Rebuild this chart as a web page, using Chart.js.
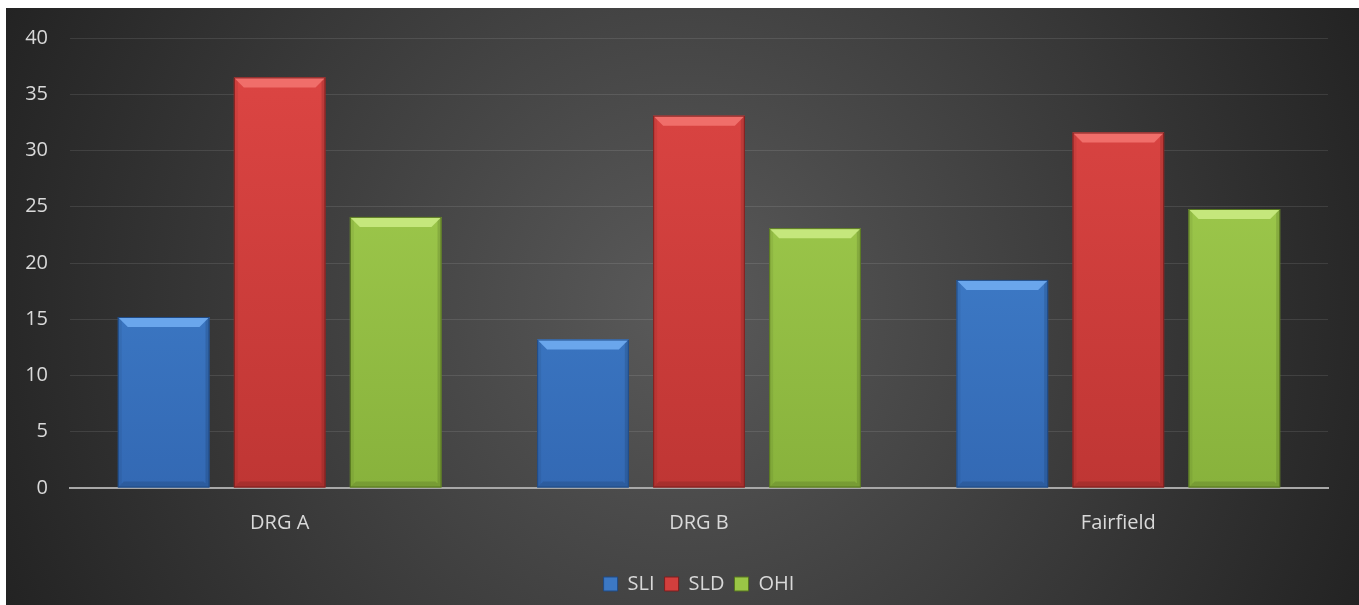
<!DOCTYPE html>
<html>
<head>
<meta charset="utf-8">
<script src="https://cdn.jsdelivr.net/npm/chart.js@4.4.0/dist/chart.umd.min.js"></script>
<style>
    html, body { margin: 0; padding: 0; background: #fff; }
    .chart-wrap { position: absolute; left: 6px; top: 8px; width: 1353px; height: 597px; }
</style>
</head>
<body>
<div class="chart-wrap"><canvas id="scoreChart"></canvas></div>
<script>
// Data
const categories = ['DRG A', 'DRG B', 'Fairfield'];
const seriesNames = ['SLI', 'SLD', 'OHI'];
const sliValues = [15.2, 13.2, 18.5];
const sldValues = [36.5, 33.1, 31.6];
const ohiValues = [24.1, 23.1, 24.8];
const yMin = 0;
const yMax = 40;
const yStep = 5;

// Colours per series: face top, face bottom, bevel highlight, edge
const seriesStyles = [
    { top: '#4689d6', bottom: '#3369b4', light: '#6aa6ec', edge: '#1f4a85', flat: '#3c78c4' },
    { top: '#de4644', bottom: '#bf3634', light: '#f06e6a', edge: '#7d1f1e', flat: '#d23f3d' },
    { top: '#a6d152', bottom: '#88b23c', light: '#c5e77c', edge: '#56751f', flat: '#9ac646' }
];
const textColor = '#d9d9d9';
const fontFamily = "'Open Sans', 'Noto Sans', sans-serif";
const fontSize = 20;

const backgroundPlugin = {
    id: 'radialBackground',
    beforeDraw(chart) {
        const { ctx, width, height } = chart;
        const cx = width * 0.5;
        const cy = height * 0.5;
        const r = Math.sqrt(width * width + height * height) / 2;
        const g = ctx.createRadialGradient(cx, cy, 0, cx, cy, r);
        g.addColorStop(0, '#5a5a5a');
        g.addColorStop(1, '#232323');
        ctx.save();
        ctx.fillStyle = g;
        ctx.fillRect(0, 0, width, height);
        ctx.restore();
    }
};

// Draw a bevel on every bar, using the positions the bar elements got from the scales
const bevelPlugin = {
    id: 'barBevel',
    afterDatasetsDraw(chart) {
        const { ctx } = chart;
        chart.data.datasets.forEach((ds, i) => {
            const meta = chart.getDatasetMeta(i);
            const style = seriesStyles[i];
            meta.data.forEach(bar => {
                const left = bar.x - bar.width / 2;
                const right = bar.x + bar.width / 2;
                const top = bar.y;
                const bottom = bar.base;
                const b = 10;
                ctx.save();
                // top highlight
                ctx.beginPath();
                ctx.moveTo(left, top);
                ctx.lineTo(right, top);
                ctx.lineTo(right - b, top + b);
                ctx.lineTo(left + b, top + b);
                ctx.closePath();
                ctx.fillStyle = style.light;
                ctx.fill();
                // side shading
                ctx.beginPath();
                ctx.moveTo(right, top);
                ctx.lineTo(right, bottom);
                ctx.lineTo(right - 4, bottom - 4);
                ctx.lineTo(right - 4, top + 4);
                ctx.closePath();
                ctx.fillStyle = 'rgba(0,0,0,0.12)';
                ctx.fill();
                ctx.beginPath();
                ctx.moveTo(left, top);
                ctx.lineTo(left + 4, top + 4);
                ctx.lineTo(left + 4, bottom - 4);
                ctx.lineTo(left, bottom);
                ctx.closePath();
                ctx.fillStyle = 'rgba(0,0,0,0.06)';
                ctx.fill();
                // bottom shading
                ctx.beginPath();
                ctx.moveTo(left, bottom);
                ctx.lineTo(right, bottom);
                ctx.lineTo(right - 6, bottom - 6);
                ctx.lineTo(left + 6, bottom - 6);
                ctx.closePath();
                ctx.fillStyle = 'rgba(0,0,0,0.12)';
                ctx.fill();
                // outline
                ctx.strokeStyle = style.edge;
                ctx.lineWidth = 1;
                ctx.strokeRect(left + 0.5, top + 0.5, bar.width - 1, bottom - top - 1);
                ctx.restore();
            });
        });
    }
};

function faceGradient(index) {
    return (context) => {
        const { chart } = context;
        const area = chart.chartArea;
        const style = seriesStyles[index];
        if (!area) return style.flat;
        const g = chart.ctx.createLinearGradient(0, area.top, 0, area.bottom);
        g.addColorStop(0, style.top);
        g.addColorStop(1, style.bottom);
        return g;
    };
}

const seriesValues = [sliValues, sldValues, ohiValues];

new Chart(document.getElementById('scoreChart'), {
    type: 'bar',
    data: {
        labels: categories,
        datasets: seriesNames.map((name, i) => ({
            label: name,
            data: seriesValues[i],
            backgroundColor: faceGradient(i),
            borderWidth: 0,
            categoryPercentage: 0.83,
            barPercentage: 0.79
        }))
    },
    options: {
        responsive: true,
        maintainAspectRatio: false,
        animation: false,
        layout: {
            padding: { top: 30, right: 31, bottom: 1, left: 0 }
        },
        plugins: {
            legend: {
                position: 'bottom',
                fullSize: false,
                labels: {
                    color: textColor,
                    font: { family: fontFamily, size: fontSize },
                    boxWidth: 14,
                    boxHeight: 14,
                    padding: 10,
                    generateLabels(chart) {
                        return chart.data.datasets.map((ds, i) => ({
                            text: ds.label,
                            fillStyle: seriesStyles[i].flat,
                            strokeStyle: seriesStyles[i].edge,
                            lineWidth: 1,
                            fontColor: textColor,
                            hidden: false,
                            datasetIndex: i
                        }));
                    }
                }
            },
            tooltip: { enabled: false }
        },
        scales: {
            x: {
                grid: { display: false, drawTicks: false },
                border: { color: '#a8a8a8', width: 2 },
                ticks: {
                    color: textColor,
                    font: { family: fontFamily, size: fontSize },
                    padding: 23
                },
                afterFit(scale) {
                    scale.height = 76;
                }
            },
            y: {
                min: yMin,
                max: yMax,
                grid: { color: 'rgba(255,255,255,0.1)', lineWidth: 1, drawTicks: false },
                border: { display: false },
                ticks: {
                    stepSize: yStep,
                    color: textColor,
                    // small line height so the top label does not push the plot down
                    font: { family: fontFamily, size: fontSize, lineHeight: 0.7 },
                    padding: 22
                },
                afterFit(scale) {
                    scale.width = 64;
                }
            }
        }
    },
    plugins: [backgroundPlugin, bevelPlugin]
});
</script>
</body>
</html>
